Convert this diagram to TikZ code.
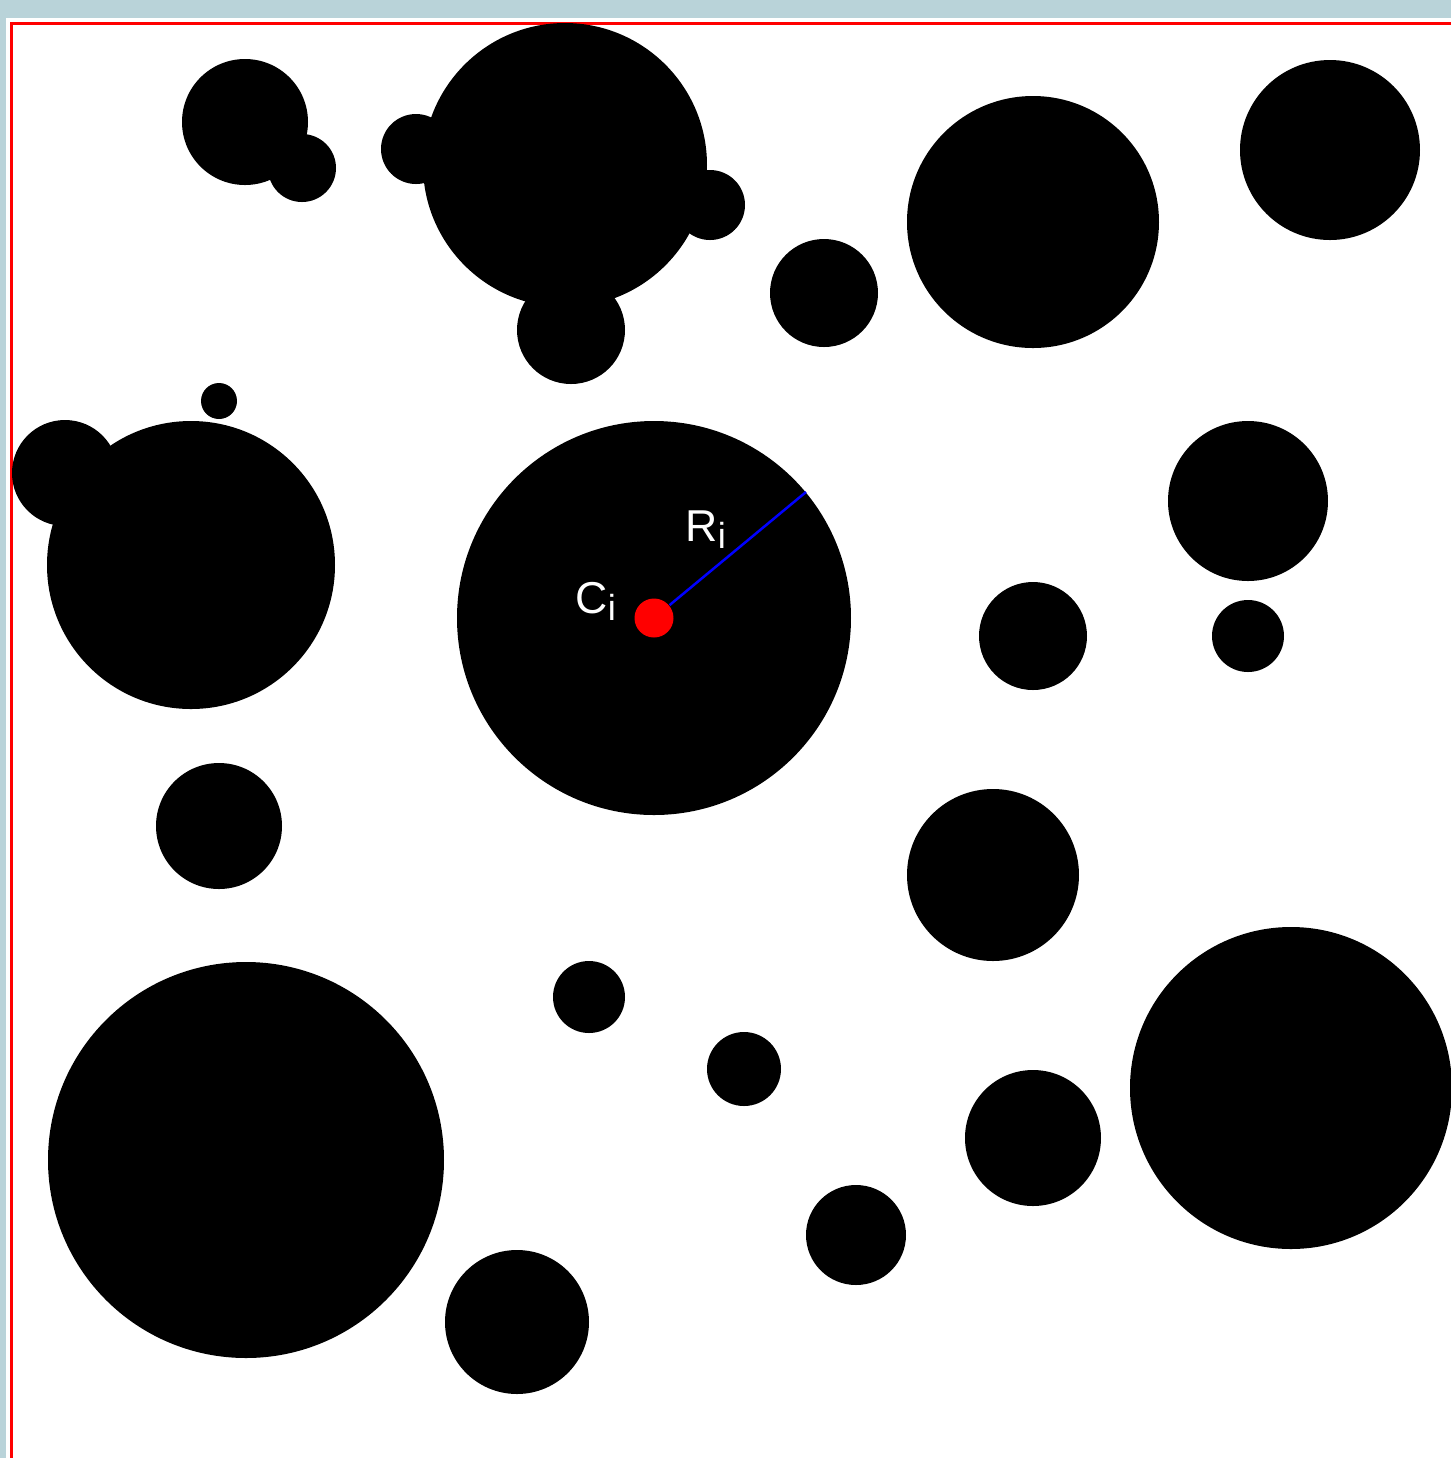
\documentclass[tikz,border=0pt]{standalone}
\usepackage{fontspec}
\setmainfont{Liberation Sans}
\definecolor{frameback}{RGB}{185,211,217}
\newcommand\sublow[1]{\raisebox{-2pt}{\fontsize{10.3}{12}\selectfont #1}}
\tikzset{
  grain/.style={fill=black},
  lab/.style={text=white,inner sep=0pt,anchor=base west,font=\fontsize{12.7}{15}\selectfont}
}
\begin{document}
\begin{tikzpicture}[x=0.1mm,y=-0.1mm]
  \useasboundingbox (0,0) rectangle (1451,1458);
  \fill[frameback] (0,0) rectangle (1451,1458);
  \fill[white] (6,18) rectangle (1451,1458);
  \draw[red,line width=0.3mm] (11.5,1458) -- (11.5,23.5) -- (1451,23.5);
  \begin{scope}
    \clip (6,18) rectangle (1451,1458);
    \foreach \x/\y/\r in {245/122/63, 302/168/34, 565/165/142, 416/149/35,
        710/205/35, 571/330/54, 824/293/54, 1033/222/126, 1330/150/90,
        219/401/18, 65/473/53, 191/565/144, 654/618/197, 1248/501/80,
        1033/636/54, 1248/636/36, 219/826/63, 993/875/86, 246/1160/198,
        589/997/36, 744/1069/37, 1033/1138/68, 1291/1088/161,
        856/1235/50, 517/1322/72}
      \fill[grain] (\x,\y) circle[radius=\r*0.1mm];
  \end{scope}
  \coordinate (ci) at (654,618);
  \coordinate (rim) at (806,492);
  \node[circle,fill=red,inner sep=0pt,minimum size=3.9mm] (cdot) at (ci) {};
  \draw[blue,line width=0.25mm] (cdot) -- (rim);
  \node[lab] (rlab) at (685,541) {R\sublow{i}};
  \node[lab] (clab) at (575,613) {C\sublow{i}};
\end{tikzpicture}
\end{document}
